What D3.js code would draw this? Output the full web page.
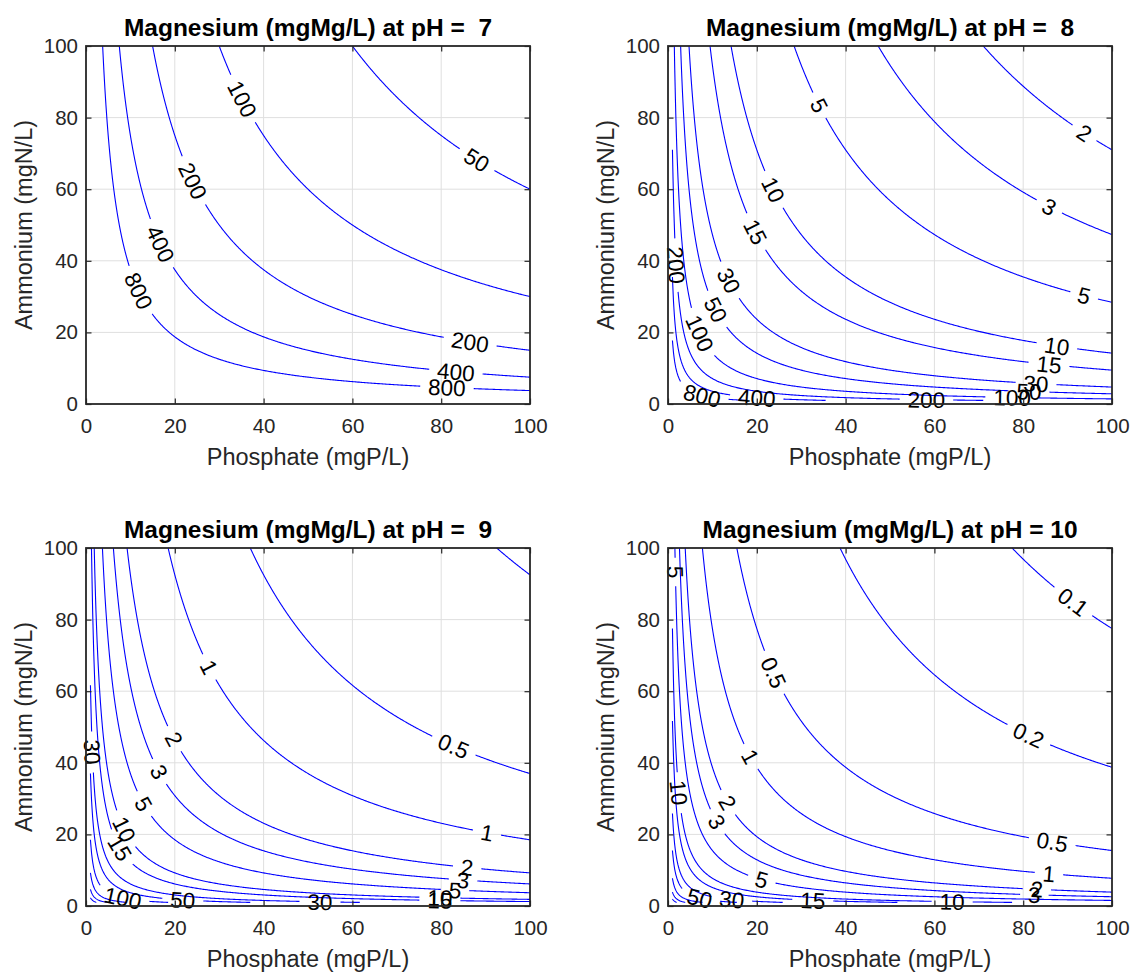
<!DOCTYPE html>
<html>
<head>
<meta charset="utf-8">
<script src="https://cdn.jsdelivr.net/npm/d3@7"></script>
<style>
  body { margin: 0; background: #fff; }
  svg text { font-family: "Liberation Sans", Arial, Helvetica, sans-serif; }
</style>
</head>
<body>
<svg id="chart" width="1133" height="973"></svg>
<script>
// pH of each panel
var phValues = [7, 8, 9, 10];
// Mg * P * N product at each pH
var productK = [300000, 14200, 1850, 775];
// contour levels, mgMg/L
var levels = [0.1, 0.2, 0.5, 1, 2, 3, 5, 10, 15, 30, 50, 100, 200, 400, 800];
var ticks = [0, 20, 40, 60, 80, 100];
// grid the field was evaluated on (mgP/L and mgN/L)
var gridMin = 1, gridMax = 100, gridStep = 0.25;

// label placement, like clabel manual: [level, P, N] near where the label sits
var labelSpots = [
  [[100, 34.7, 84.9], [50, 88.3, 68.7], [200, 24.5, 62.6], [200, 86.5, 17.3],
   [400, 16.2, 44.4], [400, 83.3, 8.9], [800, 12.2, 31.8], [800, 81.3, 4.7]],
  [[2, 94.2, 76.5], [5, 34.2, 83.5], [3, 85.8, 55], [5, 93.7, 30.2], [10, 23.6, 59.8],
   [15, 19.6, 48], [30, 13.9, 34.6], [50, 11, 26.5], [100, 7.2, 19.8], [200, 2.0, 38.8],
   [800, 7.9, 3.4], [400, 20, 2], [200, 58.2, 1.2], [100, 77.5, 1.7], [50, 81.3, 3.4],
   [30, 82.9, 5.9], [15, 85.8, 10.9], [10, 87.6, 16.2]],
  [[0.5, 83.1, 45.5], [1, 27.3, 66.5], [1, 90.3, 20.4], [2, 18.5, 45.8], [3, 16, 37.2],
   [5, 12.6, 28.2], [10, 8.3, 21.2], [15, 8.1, 16.5], [30, 1.35, 43], [100, 8.3, 2.2],
   [50, 21.8, 1.7], [30, 52.7, 1.1], [15, 79.7, 1.7], [10, 79.7, 2.2], [5, 83.1, 3.9],
   [3, 84.9, 6.7], [2, 85.8, 10.3]],
  [[0.1, 91, 84.6], [0.5, 23.6, 65.1], [0.2, 80.9, 46.9], [0.5, 86.5, 17.6], [1, 18.4, 41.6],
   [1, 85.8, 9.2], [2, 13.3, 28.8], [3, 10.6, 23.2], [5, 21.1, 7.3], [5, 1.6, 93.3],
   [10, 2.2, 31.6], [50, 7.2, 2.5], [30, 14.4, 2.2], [15, 32.6, 1.7], [10, 64, 1.1],
   [2, 83.1, 5], [3, 82.5, 2.5]]
];

// panel layout
var panels = [{left: 86, top: 46}, {left: 668, top: 46}, {left: 86, top: 548}, {left: 668, top: 548}];
var W = 444, H = 358;
var axisColor = "#262626";

var svg = d3.select("#chart");
var x = d3.scaleLinear().domain([0, 100]).range([0, W]);
var y = d3.scaleLinear().domain([0, 100]).range([H, 0]);

var nx = Math.round((gridMax - gridMin) / gridStep) + 1;
var gridVals = d3.range(nx).map(function(i) { return gridMin + i * gridStep; });

function field(K) {
  var v = new Float64Array(nx * nx);
  for (var j = 0; j < nx; j++)
    for (var i = 0; i < nx; i++)
      v[j * nx + i] = Math.log10(K / (gridVals[i] * gridVals[j]));
  return v;
}

var contours = d3.contours().size([nx, nx]).smooth(true);

// open iso-lines: drop the parts of each ring that run on the grid border
function isoLines(values, level) {
  var mp = contours.contour(values, Math.log10(level));
  var out = [];
  mp.coordinates.forEach(function(poly) {
    poly.forEach(function(ring) {
      var pts = ring.slice(0, -1), n = pts.length;
      var inside = pts.map(function(p) { return p[0] > 0 && p[0] < nx && p[1] > 0 && p[1] < nx; });
      for (var k = 0; k < n; k++) {
        if (inside[k] && !inside[(k - 1 + n) % n]) {
          var run = [];
          for (var m = k; inside[m % n] && run.length < n; m++) run.push(pts[m % n]);
          if (run.length > 1) out.push(run);
        }
      }
    });
  });
  return out.map(function(run) {
    return run.map(function(p) {
      return [gridMin + (p[0] - 0.5) * gridStep, gridMin + (p[1] - 0.5) * gridStep];
    });
  });
}

function arcLengths(pts) {
  var c = [0];
  for (var i = 1; i < pts.length; i++)
    c.push(c[i - 1] + Math.hypot(pts[i][0] - pts[i - 1][0], pts[i][1] - pts[i - 1][1]));
  return c;
}

function pointAt(pts, cum, s) {
  var L = cum[cum.length - 1];
  s = Math.max(0, Math.min(L, s));
  var i = d3.bisectRight(cum, s) - 1;
  if (i >= pts.length - 1) i = pts.length - 2;
  if (i < 0) i = 0;
  var seg = cum[i + 1] - cum[i] || 1, t = (s - cum[i]) / seg;
  return [pts[i][0] + t * (pts[i + 1][0] - pts[i][0]), pts[i][1] + t * (pts[i + 1][1] - pts[i][1])];
}

function nearestArc(pts, cum, q) {
  var best = {d: Infinity, s: 0};
  for (var i = 0; i < pts.length - 1; i++) {
    var ax = pts[i][0], ay = pts[i][1], bx = pts[i + 1][0], by = pts[i + 1][1];
    var dx = bx - ax, dy = by - ay, len2 = dx * dx + dy * dy;
    var t = len2 ? ((q[0] - ax) * dx + (q[1] - ay) * dy) / len2 : 0;
    t = Math.max(0, Math.min(1, t));
    var d = Math.hypot(ax + t * dx - q[0], ay + t * dy - q[1]);
    if (d < best.d) best = {d: d, s: cum[i] + t * Math.sqrt(len2)};
  }
  return best;
}

function visiblePieces(pts, cum, gaps) {
  var L = cum[cum.length - 1];
  gaps.sort(function(a, b) { return a[0] - b[0]; });
  var pieces = [], start = 0;
  gaps.concat([[L, L]]).forEach(function(g) {
    var end = Math.min(g[0], L);
    if (end - start > 0.5) {
      var piece = [pointAt(pts, cum, start)];
      for (var i = 0; i < pts.length; i++) if (cum[i] > start && cum[i] < end) piece.push(pts[i]);
      piece.push(pointAt(pts, cum, end));
      pieces.push(piece);
    }
    start = Math.max(start, g[1]);
  });
  return pieces;
}

var line = d3.line();

phValues.forEach(function(ph, k) {
  var pos = panels[k];
  var g = svg.append("g").attr("transform", "translate(" + pos.left + "," + pos.top + ")");

  // grid
  var inner = ticks.slice(1, -1);
  g.append("g").selectAll("line").data(inner).enter().append("line")
    .attr("x1", function(d) { return x(d); }).attr("x2", function(d) { return x(d); })
    .attr("y1", 0).attr("y2", H)
    .attr("stroke", "#dfdfdf").attr("stroke-width", 1);
  g.append("g").selectAll("line").data(inner).enter().append("line")
    .attr("y1", function(d) { return y(d); }).attr("y2", function(d) { return y(d); })
    .attr("x1", 0).attr("x2", W)
    .attr("stroke", "#dfdfdf").attr("stroke-width", 1);

  var values = field(productK[k]);
  var lineG = g.append("g"), textG = g.append("g");

  levels.forEach(function(lv) {
    isoLines(values, lv).forEach(function(iso) {
      var pts = iso.map(function(p) { return [x(p[0]), y(p[1])]; });
      var cum = arcLengths(pts);
      var gaps = [];
      labelSpots[k].filter(function(s) { return s[0] === lv; }).forEach(function(s) {
        var hit = nearestArc(pts, cum, [x(s[1]), y(s[2])]);
        if (hit.d > 30) return;
        var c = pointAt(pts, cum, hit.s);
        var a = pointAt(pts, cum, hit.s - 5), b = pointAt(pts, cum, hit.s + 5);
        var ang = Math.atan2(b[1] - a[1], b[0] - a[0]) * 180 / Math.PI;
        if (ang > 90) ang -= 180;
        if (ang <= -90) ang += 180;
        var t = textG.append("text")
          .attr("transform", "translate(" + c[0] + "," + c[1] + ") rotate(" + ang + ")")
          .attr("text-anchor", "middle")
          .attr("dy", "0.36em")
          .attr("font-size", 22.5)
          .attr("fill", "#000")
          .text(String(lv));
        var w = t.node().getComputedTextLength();
        gaps.push([hit.s - w / 2 - 8, hit.s + w / 2 + 8]);
      });
      visiblePieces(pts, cum, gaps).forEach(function(piece) {
        lineG.append("path")
          .attr("d", line(piece))
          .attr("fill", "none")
          .attr("stroke", "#0000ff")
          .attr("stroke-width", 1.1);
      });
    });
  });

  // axes, ticks inward on all four sides
  function styleAxis(sel) {
    sel.select(".domain").remove();
    sel.selectAll(".tick line").attr("stroke", axisColor).attr("stroke-width", 1.2);
    sel.selectAll(".tick text").attr("fill", axisColor).attr("font-size", 20.5)
      .attr("font-family", "Liberation Sans, Arial, Helvetica, sans-serif");
  }
  g.append("g").attr("transform", "translate(0," + H + ")")
    .call(d3.axisBottom(x).tickValues(ticks).tickSize(-5.5).tickPadding(14)).call(styleAxis);
  g.append("g")
    .call(d3.axisTop(x).tickValues(ticks).tickSize(-5.5).tickFormat("")).call(styleAxis);
  g.append("g")
    .call(d3.axisLeft(y).tickValues(ticks).tickSize(-5.5).tickPadding(8)).call(styleAxis);
  g.append("g").attr("transform", "translate(" + W + ",0)")
    .call(d3.axisRight(y).tickValues(ticks).tickSize(-5.5).tickFormat("")).call(styleAxis);

  g.append("rect")
    .attr("width", W).attr("height", H)
    .attr("fill", "none").attr("stroke", axisColor).attr("stroke-width", 1.8);

  // title and labels
  var phText = ph < 10 ? " " + ph : String(ph);
  g.append("text")
    .attr("x", W / 2).attr("y", -10)
    .attr("text-anchor", "middle")
    .attr("font-size", 24.5).attr("font-weight", "bold").attr("fill", "#000")
    .attr("xml:space", "preserve").style("white-space", "pre")
    .text("Magnesium (mgMg/L) at pH = " + phText);

  g.append("text")
    .attr("x", W / 2).attr("y", H + 61)
    .attr("text-anchor", "middle")
    .attr("font-size", 23.5).attr("fill", axisColor)
    .text("Phosphate (mgP/L)");

  g.append("text")
    .attr("transform", "translate(-54," + (H / 2) + ") rotate(-90)")
    .attr("text-anchor", "middle")
    .attr("font-size", 23.5).attr("fill", axisColor)
    .text("Ammonium (mgN/L)");
});
</script>
</body>
</html>
